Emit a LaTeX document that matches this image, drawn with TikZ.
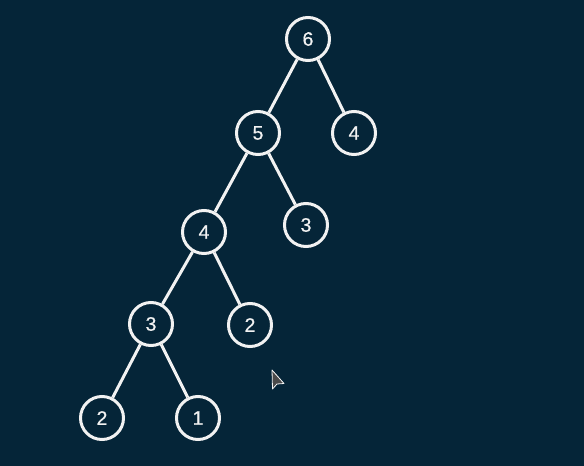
\documentclass[tikz,border=0pt]{standalone}
\usepackage{fontspec}
\setmainfont{Liberation Sans}
\newfontfamily\digitfont[FakeBold=0.6]{Liberation Sans}
\definecolor{bg}{HTML}{052538}
\definecolor{fg}{HTML}{F2F2F2}
\definecolor{cursorgray}{HTML}{4A4A4A}
\begin{document}
\begin{tikzpicture}[x=1pt,y=-1pt,
  tnode/.style={circle,draw=fg,fill=bg,line width=3pt,minimum size=43pt,inner sep=0pt,
    text=fg,font=\digitfont\fontsize{19.5}{19.5}\selectfont},
  tedge/.style={draw=fg,line width=3pt}]
\fill[bg] (0,0) rectangle (584,466);
\useasboundingbox (0,0) rectangle (584,466);
\node[tnode] (n6) at (308,39) {6};
\node[tnode] (n5) at (258,133) {5};
\node[tnode] (n4r) at (354,133) {4};
\node[tnode] (n4) at (204,232) {4};
\node[tnode] (n3r) at (306,225) {3};
\node[tnode] (n3) at (151,324) {3};
\node[tnode] (n2r) at (250,325) {2};
\node[tnode] (n2) at (102,418) {2};
\node[tnode] (n1) at (198,418) {1};
\draw[tedge] (n6) -- (n5);
\draw[tedge] (n6) -- (n4r);
\draw[tedge] (n5) -- (n4);
\draw[tedge] (n5) -- (n3r);
\draw[tedge] (n4) -- (n3);
\draw[tedge] (n4) -- (n2r);
\draw[tedge] (n3) -- (n2);
\draw[tedge] (n3) -- (n1);
% mouse cursor
\draw[fill=cursorgray,draw=fg!80,line width=0.8pt,line join=round]
  (272,370) -- (272.5,389) -- (277,384) -- (284,383.5) -- cycle;
\end{tikzpicture}
\end{document}
